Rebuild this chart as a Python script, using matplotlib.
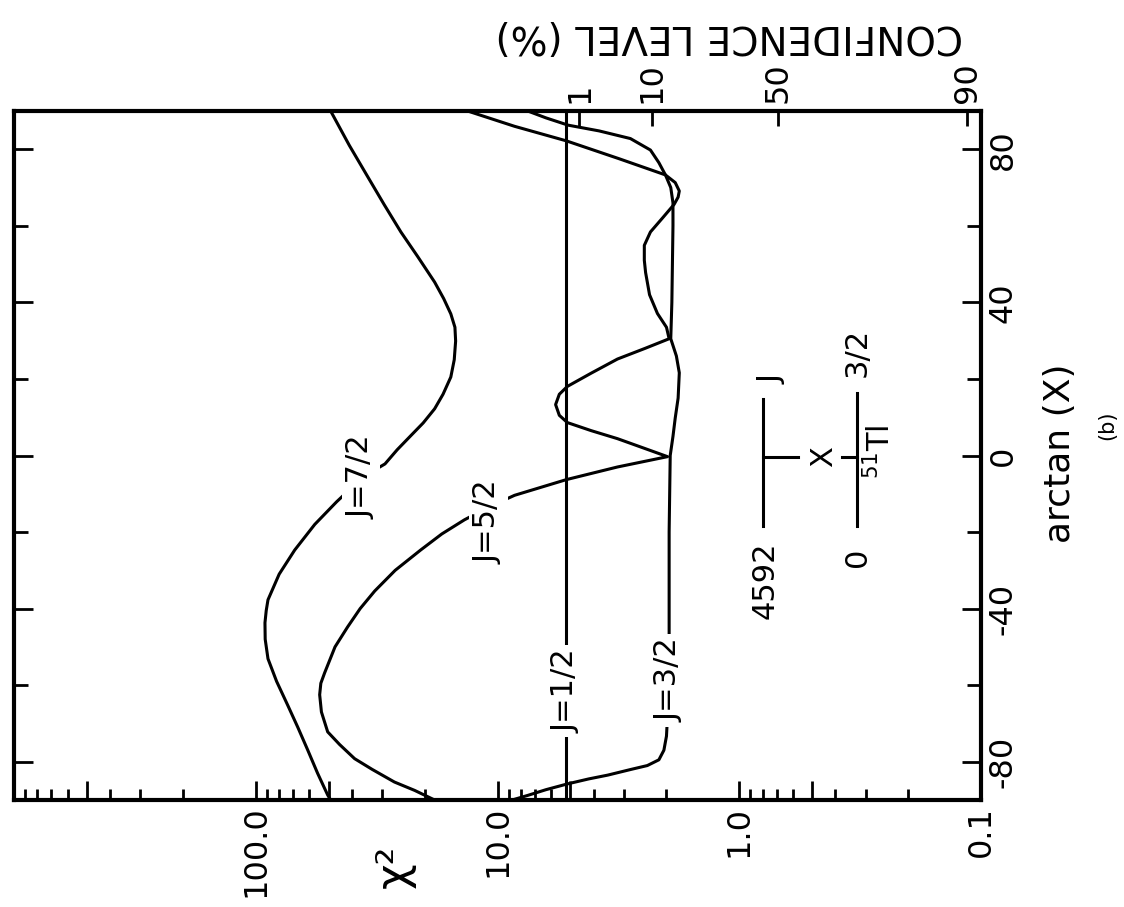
import matplotlib
matplotlib.use("Agg")
import matplotlib.pyplot as plt
from matplotlib.ticker import FixedLocator, NullLocator, FixedFormatter, NullFormatter

plt.rcParams["axes.unicode_minus"] = False

# ---------------- data ----------------
# arctan(X) in degrees (vertical axis) vs chi^2 (horizontal, log, reversed)
theta_j12 = [-90, 90]
chi2_j12 = [5.2, 5.2]

theta_j32 = [-90, -88.8, -87.3, -85.8, -84.5, -83.5, -82.0, -81.0, -79.5, -77.0,
             -73.3, -60, -40, -20, 0, 5, 9.8, 15, 21.6, 26, 30.5, 40, 50, 60, 66,
             70, 73.3, 76.5, 79.8, 82.8, 84.8, 86.3, 88.2, 90]
chi2_j32 = [8.7, 7.5, 6.3, 5.14, 4.2, 3.5, 2.8, 2.4, 2.15, 2.05,
            2.0, 1.95, 1.95, 1.95, 1.93, 1.88, 1.84, 1.79, 1.77, 1.82, 1.92, 1.9,
            1.89, 1.88, 1.88, 1.92, 2.02, 2.15, 2.33, 2.82, 3.8, 5.1, 6.3, 7.5]

theta_j52 = [-90, -87.5, -85.3, -82.0, -79.2, -75.5, -72.2, -67.0, -62.5, -59.5,
             -56.8, -50.0, -44.8, -40.0, -35.4, -30.0, -24.7, -20.5, -16.8, -13.5,
             -10.4, -6.3, -3.0, -0.3, 2.0, 4.4, 6.5, 8.6, 10.5, 13.3, 16.0, 18.05,
             21.5, 25.2, 28.0, 30.5, 33.5, 37.1, 42.0, 47.8, 51.0, 54.9, 58.4, 62.0,
             65.6, 67.5, 69.1, 71.3, 73.3, 77.5, 82.2, 86.0, 90]
chi2_j52 = [18.2, 22.0, 26.7, 33.0, 39.0, 45.0, 50.4, 53.5, 54.4, 53.8,
            51.9, 47.0, 41.7, 37.0, 32.2, 26.5, 20.8, 17.0, 13.7, 10.9,
            8.5, 5.19, 3.19, 1.98, 2.5, 3.19, 4.1, 5.14, 5.55, 5.75, 5.55, 5.14,
            4.1, 3.19, 2.45, 1.95, 2.0, 2.18, 2.35, 2.44, 2.47, 2.47, 2.33, 2.08,
            1.86, 1.79, 1.77, 1.84, 2.02, 3.13, 5.19, 8.5, 13.3]

theta_j72 = [-90, -88.7, -83.0, -76.9, -71.0, -65.2, -59.0, -53.1, -48.0, -43.7,
             -40.5, -37.7, -31.0, -24.7, -18.0, -12.1, -5.6, -2.2, 1.5, 5.1, 8.5,
             12.2, 16.0, 20.5, 25.0, 29.9, 33.5, 37.0, 41.0, 45.3, 52.0, 58.4, 65.5,
             72.8, 81.0, 90]
chi2_j72 = [49, 50.4, 55.5, 61, 67, 73.8, 82, 89, 91.4, 91.6,
            90.5, 89, 80, 69, 57, 46.3, 36, 29.2, 26, 22.9, 20.3,
            18.2, 16.8, 15.6, 15.1, 14.9, 15.0, 15.6, 16.7, 18.2, 21.4, 25.1, 29.4,
            34.4, 41.0, 49]

curve_labels = ["J=1/2", "J=3/2", "J=5/2", "J=7/2"]
label_theta = [-61.5, -58.7, -17.4, -5.6]
label_chi2 = [5.2, 1.95, 10.9, 36.8]

chi2_major = [0.1, 1, 10, 100, 1000]
chi2_major_labels = ["0.1", "1.0", "10.0", "100.0", ""]
chi2_half = [0.5, 5, 50, 500]
arctan_major = [-80, -40, 0, 40, 80]
arctan_minor = [-60, -20, 20, 60]
conf_labels = ["1", "10", "50", "90"]
conf_chi2 = [4.58, 2.29, 0.69, 0.114]

# ---------------- figure ----------------
W, H = 1124, 907
fig = plt.figure(figsize=(W / 100, H / 100), dpi=100)
L, R, T, B = 14, 981, 111, 800
ax = fig.add_axes([L / W, 1 - B / H, (R - L) / W, (B - T) / H])

ax.set_xscale("log")
ax.set_xlim(1000, 0.1)
ax.set_ylim(-90, 90)

lw = 2.2
for th, c2 in [(theta_j12, chi2_j12), (theta_j32, chi2_j32),
               (theta_j52, chi2_j52), (theta_j72, chi2_j72)]:
    ax.plot(c2, th, color="black", lw=lw, solid_capstyle="round",
            solid_joinstyle="round", zorder=2)

for lab, th, c2 in zip(curve_labels, label_theta, label_chi2):
    ax.text(c2, th, lab, rotation=90, ha="center", va="center", fontsize=22,
            color="black", zorder=5,
            bbox=dict(boxstyle="square,pad=0.15", fc="white", ec="none"))

for s in ax.spines.values():
    s.set_linewidth(3.0)

# x (chi^2) axis: bottom ticks, inward
ax.xaxis.set_major_locator(FixedLocator(chi2_major + chi2_half))
ax.xaxis.set_major_formatter(FixedFormatter(chi2_major_labels + [""] * len(chi2_half)))
minors = [m * d for d in [0.1, 1, 10, 100] for m in [2, 3, 4, 6, 7, 8, 9]]
ax.xaxis.set_minor_locator(FixedLocator(minors))
ax.xaxis.set_minor_formatter(NullFormatter())
ax.tick_params(axis="x", which="major", direction="in", length=14, width=2,
               top=False, bottom=True, labelsize=23, pad=4, labelrotation=90)
ax.tick_params(axis="x", which="minor", direction="in", length=8, width=2,
               top=False, bottom=True)

# y (arctan) axis: ticks both sides, labels on right
ax.yaxis.set_major_locator(FixedLocator(arctan_major))
ax.yaxis.set_minor_locator(FixedLocator(arctan_minor))
ax.tick_params(axis="y", which="major", direction="in", length=14, width=2,
               left=True, right=True, labelleft=False, labelright=True,
               labelsize=23, pad=5, labelrotation=90)
ax.tick_params(axis="y", which="minor", direction="in", length=10, width=2,
               left=True, right=True)
for t in ax.get_yticklabels():
    t.set_va("center")

# top: confidence level
ax2 = ax.twiny()
ax2.set_xscale("log")
ax2.set_xlim(ax.get_xlim())
ax2.xaxis.set_major_locator(FixedLocator(conf_chi2))
ax2.xaxis.set_major_formatter(FixedFormatter(conf_labels))
ax2.xaxis.set_minor_locator(NullLocator())
ax2.tick_params(axis="x", which="major", direction="in", length=11, width=2,
                top=True, bottom=False, labeltop=True, labelbottom=False,
                labelsize=23, pad=6, labelrotation=90)
for s in ax2.spines.values():
    s.set_visible(False)

# axis titles
def fx(x):
    return (x - L) / (R - L)

def fy(y):
    return (B - y) / (B - T)

fig.text(729 / W, 1 - 36 / H, "CONFIDENCE LEVEL (%)", rotation=180,
         ha="center", va="center", fontsize=28)
fig.text(1060 / W, 1 - 453 / H, "arctan (X)", rotation=90,
         ha="center", va="center", fontsize=26)
fig.text(1107 / W, 1 - 425 / H, "(b)", rotation=90,
         ha="center", va="center", fontsize=15)
fig.text(394 / W, 1 - 866 / H, "χ²", rotation=90,
         ha="center", va="center", fontsize=32)

# level-scheme inset
kw = dict(transform=ax.transAxes, color="black", lw=2.2, zorder=3)
ax.plot([fx(763), fx(763)], [fy(526), fy(399)], **kw)
ax.plot([fx(857), fx(857)], [fy(526), fy(393)], **kw)
ax.plot([fx(763), fx(798)], [fy(457), fy(457)], **kw)
ax.plot([fx(842), fx(857)], [fy(457), fy(457)], **kw)
tk = dict(transform=ax.transAxes, rotation=90, ha="center", va="center",
          fontsize=22)
ax.text(fx(765), fy(580), "4592", **tk)
ax.text(fx(772), fy(380), "J", **tk)
ax.text(fx(857), fy(352), "3/2", **tk)
ax.text(fx(857), fy(557), "0", **tk)
ax.text(fx(824), fy(457), "X", **tk)
ax.text(fx(880), fy(452), "$^{51}$Tl", **tk)

fig.savefig("out.png", dpi=100, facecolor="white")
